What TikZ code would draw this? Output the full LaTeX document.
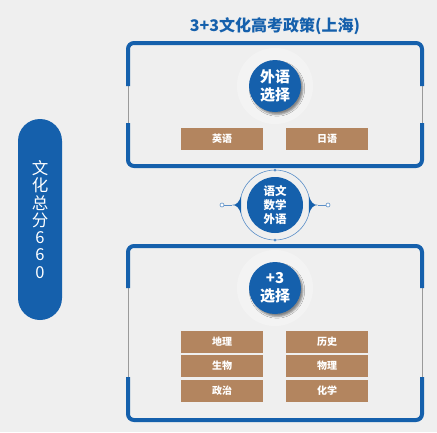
\documentclass[tikz,border=0pt]{standalone}
\usepackage{fontspec}
\newfontfamily\cjk{Noto Sans CJK SC}
\usepackage{tikz}
\usetikzlibrary{shadows.blur}
\usepackage{xcolor}
\definecolor{frameblue}{HTML}{1560AC}
\definecolor{ringblue}{HTML}{5B8FC8}
\definecolor{tagbrown}{HTML}{B3855F}
\definecolor{pagegray}{HTML}{EFEFEF}
\definecolor{gapgray}{HTML}{9A9A9A}

\tikzset{
  frame/.style={line width=4pt, frameblue, rounded corners=6pt},
  gap/.style={line width=0.8pt, gapgray},
  halo/.style={white, opacity=0.3},
  badge/.style={circle, fill=frameblue, minimum size=52pt, inner sep=0pt,
    text=white, align=center, font=\cjk\bfseries\fontsize{15}{18}\selectfont,
    blur shadow={shadow xshift=2pt, shadow yshift=-2.5pt, shadow opacity=45}},
  tag/.style={fill=tagbrown, minimum width=82pt, minimum height=22pt,
    inner sep=0pt, text=white, font=\cjk\bfseries\fontsize{10}{12}\selectfont},
  ringdot/.style={circle, fill=ringblue, minimum size=3pt, inner sep=0pt},
  enddot/.style={circle, draw=ringblue, fill=white, line width=0.6pt,
    minimum size=4pt, inner sep=0pt},
}

\begin{document}
\begin{tikzpicture}[x=1pt, y=-1pt]

    % Page
    \useasboundingbox (0,0) rectangle (437,432);
    \fill[pagegray] (0,0) rectangle (437,432);

    % Title
    \node[font=\cjk\bfseries\fontsize{16}{19}\selectfont, text=frameblue]
        (title) at (275,26) {3+3文化高考政策(上海)};

    % Left pill
    \node[fill=frameblue, rounded corners=22pt, minimum width=44pt,
        minimum height=201pt, inner sep=0pt, text=white, align=center,
        font=\cjk\fontsize{16.5}{17.3}\selectfont]
        (total) at (40,219.5) {文\\化\\总\\分\\6\\6\\0};

    % Corners of the upper frame
    \coordinate (T1) at (128,86);
    \coordinate (T2) at (128,43);
    \coordinate (T3) at (422,43);
    \coordinate (T4) at (422,86);
    \coordinate (T5) at (422,123);
    \coordinate (T6) at (422,166);
    \coordinate (T7) at (128,166);
    \coordinate (T8) at (128,123);

    % Upper frame
    \draw[gap] (T1) -- (T8);
    \draw[gap] (T4) -- (T5);
    \draw[frame] (T1) -- (T2) -- (T3) -- (T4);
    \draw[frame] (T5) -- (T6) -- (T7) -- (T8);

    % Foreign language choice
    \fill[halo] (275,86) circle (38pt);
    \node[badge] (langs) at (275,86) {外语\\选择};
    \node[tag] (english) at (222,139) {英语};
    \node[tag] (japanese) at (327,139) {日语};

    % Corners of the lower frame
    \coordinate (B1) at (128,288);
    \coordinate (B2) at (128,246);
    \coordinate (B3) at (422,246);
    \coordinate (B4) at (422,288);
    \coordinate (B5) at (422,377);
    \coordinate (B6) at (422,420);
    \coordinate (B7) at (128,420);
    \coordinate (B8) at (128,377);

    % Lower frame
    \draw[gap] (B1) -- (B8);
    \draw[gap] (B4) -- (B5);
    \draw[frame] (B1) -- (B2) -- (B3) -- (B4);
    \draw[frame] (B5) -- (B6) -- (B7) -- (B8);

    % +3 choice
    \fill[halo] (275,288) circle (38pt);
    \node[badge] (plus) at (275,288) {+3\\选择};
    \node[tag] (geo) at (222,342) {地理};
    \node[tag] (hist) at (327,342) {历史};
    \node[tag] (bio) at (222,366) {生物};
    \node[tag] (phys) at (327,366) {物理};
    \node[tag] (pol) at (222,391) {政治};
    \node[tag] (chem) at (327,391) {化学};

    % Core subjects in the middle
    \draw[ringblue, line width=0.6pt] (275,205) circle (35pt);
    \node[circle, fill=frameblue, minimum size=56pt, inner sep=0pt,
        text=white, align=center,
        font=\cjk\bfseries\fontsize{11.5}{14}\selectfont]
        (core) at (275,205) {语文\\数学\\外语};
    \node[ringdot] (ringtop) at (275,170) {};
    \node[ringdot] (ringbot) at (275,240) {};

    % Wings
    \coordinate (wingL) at (232,205);
    \coordinate (wingR) at (318,205);
    \fill[frameblue] (241.2,196) .. controls (239,202) and (237,205) .. (wingL)
        .. controls (237,205) and (239,208) .. (241.2,214) -- cycle;
    \fill[frameblue] (308.8,196) .. controls (311,202) and (313,205) .. (wingR)
        .. controls (313,205) and (311,208) .. (308.8,214) -- cycle;
    \node[enddot] (endL) at (222,205) {};
    \node[enddot] (endR) at (328,205) {};
    \draw[ringblue, line width=0.6pt] (wingL) -- (endL);
    \draw[ringblue, line width=0.6pt] (wingR) -- (endR);

\end{tikzpicture}
\end{document}
